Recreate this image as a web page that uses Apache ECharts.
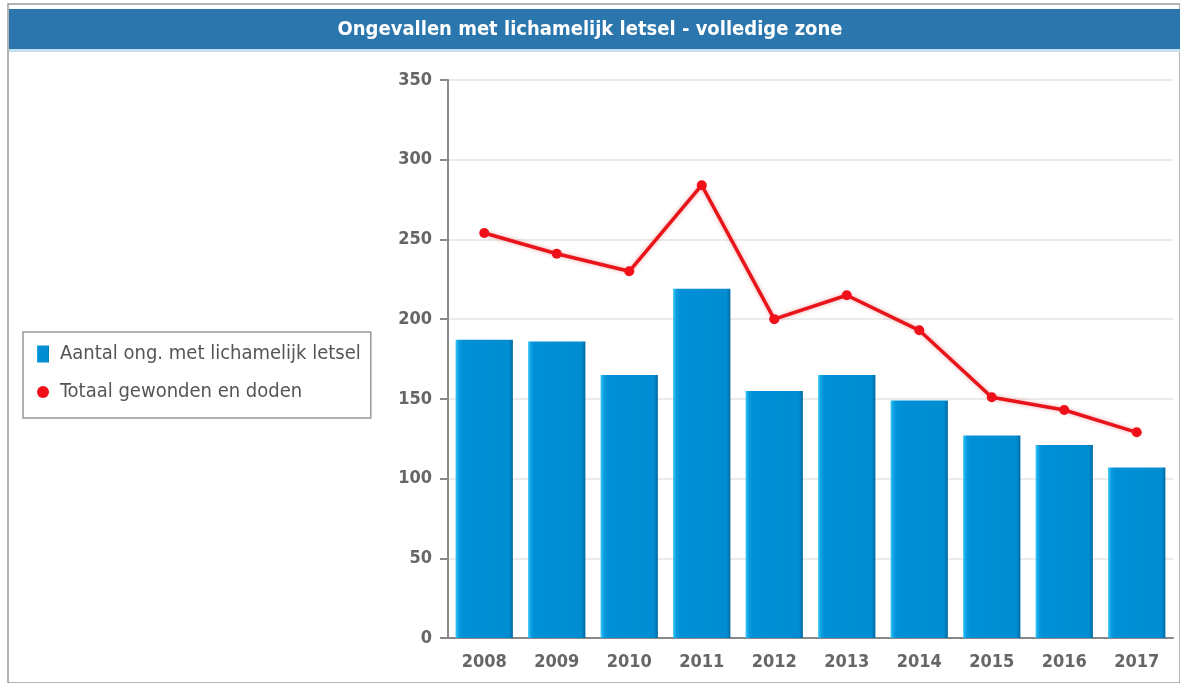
<!DOCTYPE html>
<html>
<head>
<meta charset="utf-8">
<script src="https://cdn.jsdelivr.net/npm/echarts@6/dist/echarts.min.js"></script>
<style>
html, body { margin: 0; padding: 0; background: #fff; }
#chart { width: 1180px; height: 683px; }
</style>
</head>
<body>
<div id="chart"></div>
<script>
var years = ['2008', '2009', '2010', '2011', '2012', '2013', '2014', '2015', '2016', '2017'];
var ongevallen = [187, 186, 165, 219, 155, 165, 149, 127, 121, 107];
var gewondenDoden = [254, 241, 230, 284, 200, 215, 193, 151, 143, 129];

var chart = echarts.init(document.getElementById('chart'));
var font = '"Liberation Sans Narrow", "DejaVu Sans Condensed", sans-serif';

var option = {
    animation: false,
    textStyle: { fontFamily: font },
    graphic: [
        { type: 'rect', shape: { x: 8, y: 4, width: 1172, height: 679 },
          style: { fill: 'none', stroke: '#9a9a9a', lineWidth: 1.5 } },
        { type: 'rect', shape: { x: 9, y: 9, width: 1171, height: 40 },
          style: { fill: '#2a76ad' } },
        { type: 'rect', shape: { x: 9, y: 49, width: 1171, height: 3 },
          style: { fill: '#c6dff0' } },
        { type: 'text', left: 'center', top: 20,
          style: { text: 'Ongevallen met lichamelijk letsel - volledige zone', fill: '#fff',
                   font: 'bold 20px ' + font } }
    ],
    legend: {
        orient: 'vertical',
        left: 23,
        top: 332,
        padding: [12, 10, 16, 14],
        itemGap: 18,
        itemWidth: 12,
        itemHeight: 17,
        borderColor: '#999',
        borderWidth: 1.5,
        textStyle: { fontSize: 20, color: '#555', fontFamily: font, padding: [0, 0, 0, 6] },
        data: [
            { name: 'Aantal ong. met lichamelijk letsel', icon: 'rect' },
            { name: 'Totaal gewonden en doden', icon: 'circle' }
        ]
    },
    grid: { left: 448, right: 7, top: 80, bottom: 45 },
    xAxis: {
        type: 'category',
        data: years,
        axisLine: { lineStyle: { color: '#888', width: 2 } },
        axisTick: { length: 7, lineStyle: { color: '#888', width: 2 } },
        axisLabel: { fontSize: 18, fontWeight: 'bold', color: '#666', margin: 15, fontFamily: font }
    },
    yAxis: {
        type: 'value',
        min: 0,
        max: 350,
        interval: 50,
        axisLine: { show: true, lineStyle: { color: '#888', width: 2 } },
        axisTick: { show: true, length: 8, lineStyle: { color: '#888', width: 2 } },
        axisLabel: { fontSize: 18, fontWeight: 'bold', color: '#666', margin: 16, fontFamily: font },
        splitLine: { lineStyle: { color: '#e4e4e4', width: 1.5 } }
    },
    series: [
        {
            name: 'Aantal ong. met lichamelijk letsel',
            type: 'bar',
            data: ongevallen,
            barCategoryGap: '21%',
            itemStyle: {
                color: new echarts.graphic.LinearGradient(0, 0, 1, 0, [
                    { offset: 0, color: '#35c8f5' },
                    { offset: 0.06, color: '#0a9be0' },
                    { offset: 0.12, color: '#0090d6' },
                    { offset: 0.93, color: '#008dd2' },
                    { offset: 1, color: '#006aa3' }
                ])
            }
        },
        {
            name: 'Totaal gewonden en doden',
            type: 'line',
            data: gewondenDoden,
            symbol: 'circle',
            symbolSize: 10,
            z: 5,
            lineStyle: { color: '#e8141a', width: 3.5, shadowColor: 'rgba(200,0,0,0.35)', shadowBlur: 4 },
            itemStyle: { color: '#f0101a' }
        }
    ]
};

chart.setOption(option);
</script>
</body>
</html>
